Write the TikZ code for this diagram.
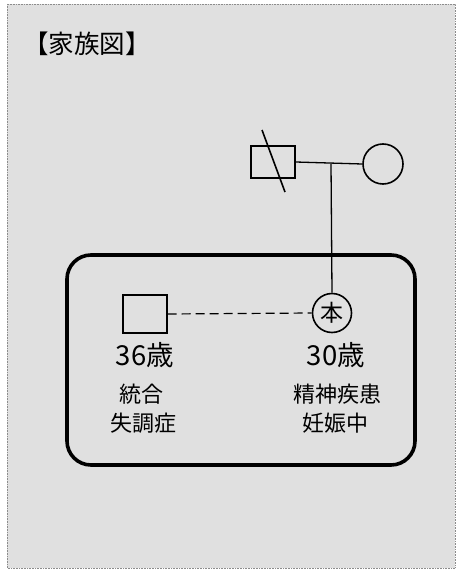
\documentclass[tikz,border=0pt]{standalone}
\usepackage{fontspec}
\newfontfamily\jp{Noto Sans CJK JP}
\begin{document}
\begin{tikzpicture}[x=1pt,y=-1pt,
  line/.style={line width=1.6pt},
  lbl/.style={font=\jp\fontsize{22}{24}\selectfont, inner sep=0pt},
  age/.style={font=\jp\fontsize{27.5}{29}\selectfont, inner sep=0pt}]
\useasboundingbox (0,0) rectangle (459,572);
\fill[white] (0,0) rectangle (459,572);
\filldraw[fill=black!12, draw=black!45, line width=0.6pt, densely dotted] (7,4) rectangle (455,568);
% title
\node[font=\jp\fontsize{25.5}{27}\selectfont, anchor=west, inner sep=0pt] (title) at (23,44) {【家族図】};
% parents
\node[draw, line width=1.6pt, minimum width=44pt, minimum height=32pt, inner sep=0pt] (father) at (273,162) {};
\coordinate (slashA) at (262,130);
\coordinate (slashB) at (285,192);
\draw[line] (slashA) -- (slashB);
\node[draw, circle, line width=1.6pt, minimum size=40pt, inner sep=0pt] (mother) at (383,164) {};
\coordinate (mid) at (331,163.5);
\draw[line width=1.3pt] (father.east) -- (mother.west);
% household box
\node[draw, line width=3.6pt, rounded corners=24pt, minimum width=348pt, minimum height=210pt, inner sep=0pt] (house) at (241,360) {};
% self
\node[draw, circle, line width=1.6pt, minimum size=39pt, inner sep=0pt, font=\jp\fontsize{23}{24}\selectfont] (self) at (332,313) {本};
\draw[line width=1.3pt] (mid) -- (self.north);
% husband
\node[draw, line width=1.2pt, minimum width=44pt, minimum height=38pt, inner sep=0pt] (husband) at (145,314) {};
\draw[line width=1.2pt, dash pattern=on 9pt off 5pt] (husband.east) -- (self.west);
% labels
\node[age] (ageH) at (145,355) {36歳};
\node[age] (ageS) at (336,355) {30歳};
\node[lbl] (dx1) at (141,394) {統合};
\node[lbl] (dx2) at (143,423) {失調症};
\node[lbl] (dx3) at (337,394) {精神疾患};
\node[lbl] (dx4) at (335,423) {妊娠中};
\end{tikzpicture}
\end{document}
